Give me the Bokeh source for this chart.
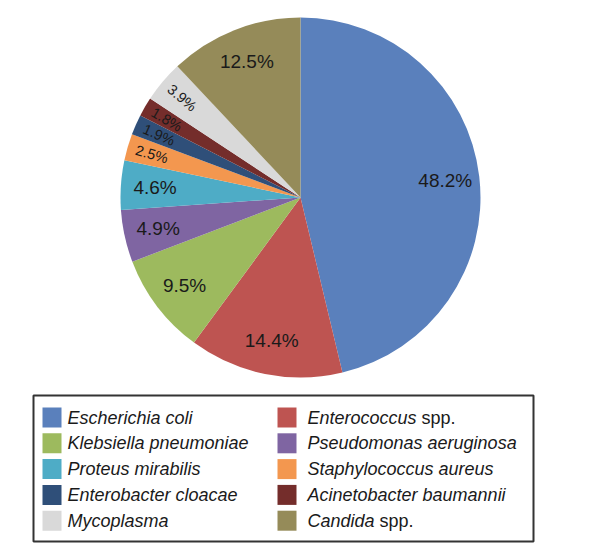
import math
from bokeh.plotting import figure
from bokeh.models import Range1d
from bokeh.core.properties import value
from bokeh.embed import file_html
from bokeh.resources import INLINE

# ---- data ----
organisms = ["Escherichia coli", "Enterococcus", "Klebsiella pneumoniae",
             "Pseudomonas aeruginosa", "Proteus mirabilis", "Staphylococcus aureus",
             "Enterobacter cloacae", "Acinetobacter baumannii", "Mycoplasma", "Candida"]
suffixes = ["", "spp.", "", "", "", "", "", "", "", "spp."]
percentages = [48.2, 14.4, 9.5, 4.9, 4.6, 2.5, 1.9, 1.8, 3.9, 12.5]
labels = ["48.2%", "14.4%", "9.5%", "4.9%", "4.6%", "2.5%", "1.9%", "1.8%", "3.9%", "12.5%"]
colors = ["#5A80BC", "#BE5451", "#9DBA5E", "#7F65A2", "#4EACC6", "#F3974F",
          "#2F4F79", "#742D2B", "#D9D9D9", "#958B59"]

# ---- layout helpers (image coordinates -> data, y up) ----
W, H = 592, 549
def Y(img_y):
    return 557 - img_y

FONT = "Liberation Sans"
cx, cy, R = 300, Y(197), 180

p = figure(width=W, height=H, x_range=Range1d(0, W), y_range=Range1d(557 - H, 557),
           output_backend="svg", toolbar_location=None, min_border=0)
p.axis.visible = False
p.grid.visible = False
p.outline_line_color = None
p.background_fill_color = "white"

total = sum(percentages)
starts, ends, mids = [], [], []
acc = 0.0
for v in percentages:
    a0 = acc / total * 2 * math.pi
    acc += v
    a1 = acc / total * 2 * math.pi
    starts.append(math.pi / 2 - a0)
    ends.append(math.pi / 2 - a1)
    mids.append(math.pi / 2 - (a0 + a1) / 2)

p.wedge(x=cx, y=cy, radius=R, start_angle=starts, end_angle=ends,
        direction="clock", fill_color=colors, line_color=None)

# slice labels
lx, ly, la, lt, ls = [], [], [], [], []
for v, lab, m in zip(percentages, labels, mids):
    small = v < 4
    r = R * (0.86 if small else 0.81)
    lx.append(cx + r * math.cos(m))
    ly.append(cy + r * math.sin(m))
    ang = 0.0
    if small:
        ang = m - math.pi if math.cos(m) < 0 else m
    la.append(ang)
    lt.append(lab)
    ls.append("14.5px" if small else "19px")
p.text(x=lx, y=ly, text=lt, angle=la, text_align="center", text_baseline="middle",
       text_font=value(FONT), text_font_size=ls, text_color="#1a1a1a")

# legend box
p.quad(left=33, right=533, bottom=Y(541), top=Y(395), fill_color="white",
       line_color="#333333", line_width=2)

arial = {' ': 278, 'E': 667, 'C': 722, 'a': 556, 'b': 556, 'c': 500, 'd': 556, 'e': 556,
         'f': 278, 'g': 556, 'h': 556, 'i': 222, 'k': 500, 'l': 222, 'm': 833, 'n': 556,
         'o': 556, 'p': 556, 'r': 333, 's': 500, 't': 278, 'u': 556, 'y': 500}
def text_w(s, size):
    return sum(arial.get(ch, 556) for ch in s) * size / 1000.0

fs = 18
row_y0, row_dy = 417, 25.8
sw_x = [51.5, 286.5]
tx = [67, 307]
sx, sy, ix, iy, it, rx, ry, rt = [], [], [], [], [], [], [], []
for i, (name, suf) in enumerate(zip(organisms, suffixes)):
    row, col = divmod(i, 2)
    yy = Y(row_y0 + row * row_dy)
    sx.append(sw_x[col]); sy.append(yy)
    ix.append(tx[col]); iy.append(yy); it.append(name)
    if suf:
        rx.append(tx[col] + text_w(name + " ", fs)); ry.append(yy); rt.append(suf)

p.rect(x=sx, y=sy, width=19, height=20, width_units="screen", height_units="screen",
       fill_color=colors, line_color=None)
p.text(x=ix, y=iy, text=it, text_align="left", text_baseline="middle",
       text_font=value(FONT), text_font_style="italic", text_font_size=f"{fs}px",
       text_color="#1a1a1a")
p.text(x=rx, y=ry, text=rt, text_align="left", text_baseline="middle",
       text_font=value(FONT), text_font_size=f"{fs}px", text_color="#1a1a1a")

open("out.html", "w").write(file_html(p, INLINE))
